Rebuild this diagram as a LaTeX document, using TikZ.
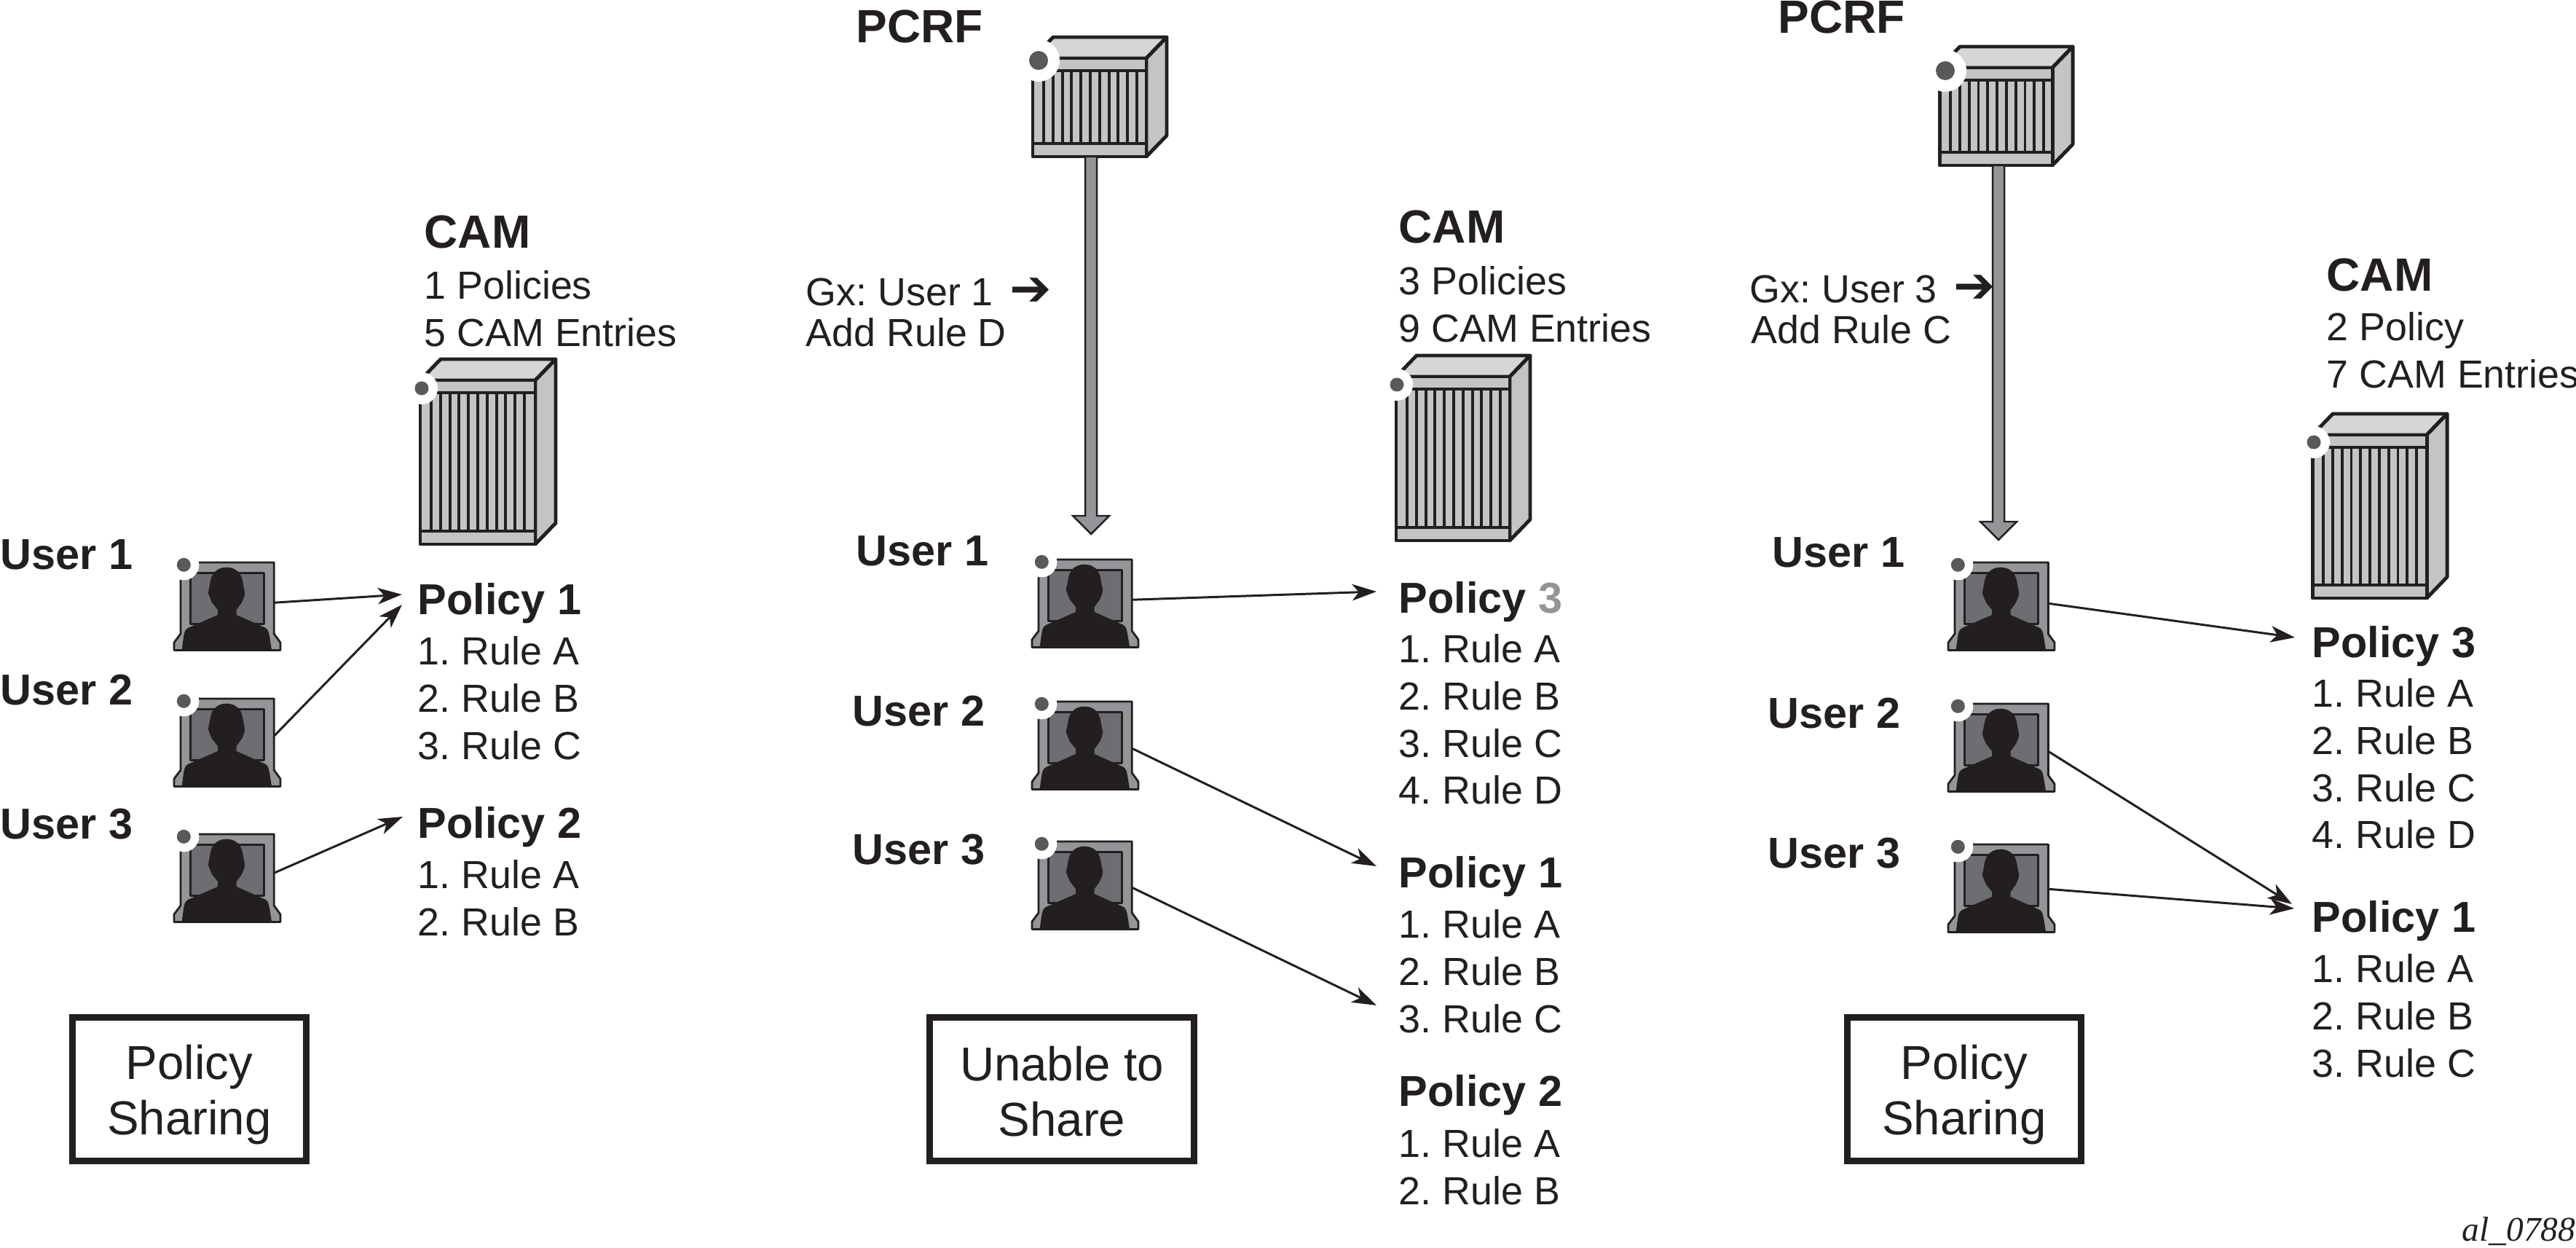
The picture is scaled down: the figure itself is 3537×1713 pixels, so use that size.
\documentclass[tikz,border=0pt]{standalone}
\usepackage{fontspec}
\setmainfont{Liberation Sans}
\newfontfamily\symfont{DejaVu Sans}
\newfontfamily\tagfont{Liberation Serif}
\usetikzlibrary{arrows.meta,calc}
\frenchspacing

\definecolor{inkc}{HTML}{231F20}
\definecolor{topc}{HTML}{D5D6D8}
\definecolor{panelc}{HTML}{C3C4C6}
\definecolor{midc}{HTML}{939598}
\definecolor{screenc}{HTML}{6D6E71}
\definecolor{dotc}{HTML}{58595B}

\tikzset{
  frame/.style={draw=inkc,line width=1.4pt,line join=round},
  stripe/.style={draw=inkc,line width=1.1pt},
  thin frame/.style={draw=inkc,line width=.8pt,line join=round},
  anchorbox/.style={inner sep=0,outer sep=0,minimum width=#1*0.01cm},
  bigtext/.style={font=\fontsize{18.2}{21}\selectfont\bfseries\color{inkc},inner sep=0,anchor=north west},
  headtext/.style={font=\fontsize{16.9}{20}\selectfont\bfseries\color{inkc},inner sep=0,anchor=north west},
  ruletext/.style={font=\fontsize{15.3}{18.4}\selectfont\color{inkc},inner sep=0,anchor=north west,align=left},
  gxtext/.style={font=\fontsize{15.3}{16}\selectfont\color{inkc},inner sep=0,anchor=north west,align=left},
  notebox/.style={draw=inkc,line width=2.5pt,minimum height=1.97cm,align=center,inner sep=0,
    font=\fontsize{18.6}{21.6}\selectfont\color{inkc}},
  conn/.style={draw=inkc,line width=.85pt,-{Stealth[length=9.5pt,width=6.4pt,inset=2.6pt]}},
  gxshaft/.style={draw=inkc,fill=midc,line width=.7pt,line join=miter}
}

\newcommand{\serverunit}[9]{
  \begin{scope}[shift={(#2,#3)}]
    \draw[frame,fill=topc] (0,0) -- (28,-29) -- (#4+28,-29) -- (#4,0) -- cycle;
    \draw[frame,fill=panelc] (#4,0) -- (#4+28,-29) -- (#4+28,#5-29) -- (#4,#5) -- cycle;
    \draw[frame,fill=panelc] (0,0) rectangle (#4,#5);
    \foreach \k in {0,...,10}
      \draw[stripe] ({15+12.8*\k},17) -- ({15+12.8*\k},#5-18);
    \draw[stripe] (0,17) -- (#4,17);
    \draw[stripe] (0,#5-18) -- (#4,#5-18);
    \fill[white] (#6,#7) circle[radius=#9];
    \fill[dotc] (#6,#7) circle[radius=#8];
    \node[anchorbox=#4,minimum height=#5*0.01cm] (#1) at (#4/2,#5/2) {};
  \end{scope}
}

\newcommand{\usericon}[3]{
  \begin{scope}[shift={(#2,#3)}]
    \draw[thin frame,fill=midc] (9,0) -- (137.3,0) -- (137.3,98) -- (146,110) -- (146,120.5) -- (0,120.5) -- (0,110) -- (9,98) -- cycle;
    \draw[thin frame,fill=screenc] (22.3,14.3) rectangle (123.3,84.3);
    \fill[inkc] (72,6.7) .. controls (60,6.7) and (52,14) .. (50,25) -- (48,36) -- (46.7,41.7) -- (49,48) -- (52,55) -- (60,65) -- (60,72)
      -- (19,90) .. controls (14,94) .. (10.7,120) -- (134,120) .. controls (130,94) .. (126,90) -- (85.7,72) -- (85.7,65) -- (93,55)
      -- (96,48) -- (97.3,41.7) -- (96,36) -- (94,25) .. controls (92,14) and (84,6.7) .. (72,6.7) -- cycle;
    \fill[white] (13.3,3.3) circle[radius=21];
    \fill[dotc] (13.3,3.3) circle[radius=9.5];
    \node[anchorbox=128.3,minimum height=1.205cm] (#1) at (73.15,60.25) {};
  \end{scope}
}

\newcommand{\gxarrow}[2]{
  \draw[gxshaft] ($(#1.south -| #2)+(-8,0)$) -- ($(#2)+(-8,-25)$) -- ($(#2)+(-25,-25)$) -- (#2)
    -- ($(#2)+(25,-25)$) -- ($(#2)+(8,-25)$) -- ($(#1.south -| #2)+(8,0)$) -- cycle;
}

\begin{document}
\begin{tikzpicture}[x=0.01cm,y=-0.01cm]

\useasboundingbox (0,0) rectangle (3537,1713);

\node[bigtext] (cama) at (582,295) {CAM};
\node[ruletext] (infoa) at (582,371) {1 Policies\\5 CAM Entries};
\serverunit{srva}{577}{522}{158}{225}{2}{11}{9.5}{22}

\node[headtext] (usera1) at (0,740) {User 1};
\node[headtext] (usera2) at (0,925) {User 2};
\node[headtext] (usera3) at (0,1109) {User 3};
\usericon{ua1}{239}{772}
\usericon{ua2}{239}{959}
\usericon{ua3}{239}{1145}

\node[headtext] (pa1) at (573,800) {Policy 1};
\node[ruletext] (ra1) at (573,873) {1. Rule A\\2. Rule B\\3. Rule C};
\node[headtext] (pa2) at (573,1107) {Policy 2};
\node[ruletext] (ra2) at (573,1180) {1. Rule A\\2. Rule B};

\draw[conn] ($(ua1.east)+(0,-5)$) -- ($(pa1.north west)+(-21,16)$);
\draw[conn] ($(ua2.east)+(0,-9)$) -- ($(pa1.north west)+(-21,30)$);
\draw[conn] ($(ua3.east)+(0,-7)$) -- ($(pa2.north west)+(-20,14)$);

\node[notebox,minimum width=3.21cm] (notea) at (260,1495) {\rule{0pt}{17.6pt}Policy\\Sharing};



\node[bigtext] (pcrfb) at (1175,13) {PCRF};
\serverunit{srvb}{1418}{80}{156}{135}{8}{3}{13}{29}
\node[gxtext] (gxb) at (1106,381) {Gx: User 1\hspace{6.4pt}{\symfont\bfseries\fontsize{19.5}{16}\selectfont ➔}\\Add Rule D};
\coordinate (tipb) at (1498,733);
\gxarrow{srvb}{tipb}

\node[bigtext] (camb) at (1920,288) {CAM};
\node[ruletext] (infob) at (1920,365) {3 Policies\\9 CAM Entries};
\serverunit{cmb}{1917}{517}{156}{225}{1}{11}{9.5}{22}

\node[headtext] (userb1) at (1175,735) {User 1};
\node[headtext] (userb2) at (1170,954) {User 2};
\node[headtext] (userb3) at (1170,1144) {User 3};
\usericon{ub1}{1417}{768}
\usericon{ub2}{1417}{963}
\usericon{ub3}{1417}{1155}

\node[headtext] (pb3) at (1920,798) {Policy \textcolor{midc}{3}};
\node[ruletext] (rb3) at (1920,870) {1. Rule A\\2. Rule B\\3. Rule C\\4. Rule D};
\node[headtext] (pb1) at (1920,1175) {Policy 1};
\node[ruletext] (rb1) at (1920,1248) {1. Rule A\\2. Rule B\\3. Rule C};
\node[headtext] (pb2) at (1920,1475) {Policy 2};
\node[ruletext] (rb2) at (1920,1549) {1. Rule A\\2. Rule B};

\draw[conn] ($(ub1.east)+(0,-5)$) -- ($(pb3.north west)+(-30,14)$);
\draw[conn] ($(ub2.east)+(0,4)$) -- ($(pb1.north west)+(-30,14)$);
\draw[conn] ($(ub3.east)+(0,3)$) -- ($(pb2.north west)+(-30,-95)$);

\node[notebox,minimum width=3.63cm] (noteb) at (1458,1495) {\rule{0pt}{15pt}Unable to\\Share};



\node[bigtext] (pcrfc) at (2441,0) {PCRF};
\serverunit{srvc}{2663}{93}{155}{134}{8}{4}{13}{29}
\node[gxtext] (gxc) at (2402,377) {Gx: User 3\hspace{6.4pt}{\symfont\bfseries\fontsize{19.5}{16}\selectfont ➔}\\\hspace{.5pt}Add Rule C};
\coordinate (tipc) at (2744,741);
\gxarrow{srvc}{tipc}

\node[bigtext] (camc) at (3194,354) {CAM};
\node[ruletext] (infoc) at (3194,428) {2 Policy\\7 CAM Entries};
\serverunit{cmc}{3175}{597}{157}{224}{2}{10}{9.5}{22}

\node[headtext] (userc1) at (2433,737) {User 1};
\node[headtext] (userc2) at (2427,957) {User 2};
\node[headtext] (userc3) at (2427,1149) {User 3};
\usericon{uc1}{2675}{772}
\usericon{uc2}{2675}{966}
\usericon{uc3}{2675}{1159}

\node[headtext] (pc3) at (3174,859) {Policy 3};
\node[ruletext] (rc3) at (3174,931) {1. Rule A\\2. Rule B\\3. Rule C\\4. Rule D};
\node[headtext] (pc1) at (3174,1236) {Policy 1};
\node[ruletext] (rc1) at (3174,1309) {1. Rule A\\2. Rule B\\3. Rule C};

\draw[conn] ($(uc1.east)+(0,-4)$) -- ($(pc3.north west)+(-23,16)$);
\draw[conn] ($(uc2.east)+(0,5)$) -- ($(pc1.north west)+(-27,5)$);
\draw[conn] ($(uc3.east)+(0,1)$) -- ($(pc1.north west)+(-24,11)$);

\node[notebox,minimum width=3.21cm] (notec) at (2697,1495) {\rule{0pt}{17.6pt}Policy\\Sharing};

\node[font=\fontsize{13.5}{16}\selectfont\tagfont\itshape\color{inkc},inner sep=0,anchor=base east] (figtag) at (3537,1703) {al\_0788};
\end{tikzpicture}
\end{document}
